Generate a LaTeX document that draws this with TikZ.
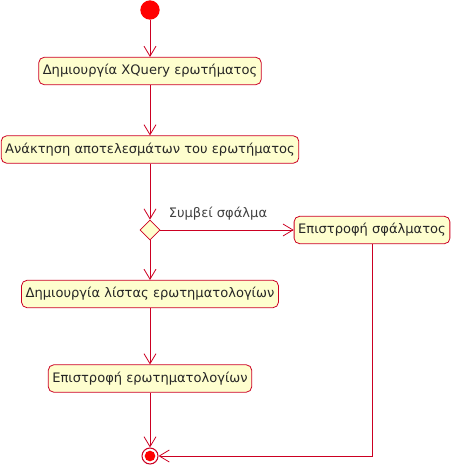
\documentclass[tikz,border=0pt]{standalone}
\usepackage{fontspec}
\setmainfont{DejaVu Sans}
\usetikzlibrary{shapes.geometric,arrows.meta}
\definecolor{umlred}{HTML}{CC0022}
\definecolor{umlfill}{HTML}{FEFECE}
\definecolor{startred}{HTML}{FF0000}
\tikzset{
  act/.style={draw=umlred, fill=umlfill, rounded corners=4pt, line width=0.6pt,
    inner xsep=3pt, minimum height=20.5pt, font=\fontsize{9.8}{12}\selectfont, text=black!85},
  conn/.style={draw=umlred, line width=0.6pt, -{Straight Barb[length=7.5pt,width=9pt]}},
  dec/.style={draw=umlred, fill=umlfill, diamond, inner sep=0pt, minimum width=15pt, minimum height=15pt, line width=0.6pt}
}
\begin{document}
\begin{tikzpicture}[x=0.75pt,y=-0.75pt]
\useasboundingbox (0,0) rectangle (452,467);
\node[circle, fill=startred, minimum size=14.5pt, inner sep=0pt] (start) at (150,10) {};
\node[act] (a1) at (150,71) {Δημιουργία XQuery ερωτήματος};
\node[act] (a2) at (150,149.5) {Ανάκτηση αποτελεσμάτων του ερωτήματος};
\node[dec] (d) at (150,230) {};
\node[act] (a3) at (372,230) {Επιστροφή σφάλματος};
\node[act] (a4) at (150,294) {Δημιουργία λίστας ερωτηματολογίων};
\node[act] (a5) at (150,378.5) {Επιστροφή ερωτηματολογίων};
\node[circle, draw=umlred, line width=0.8pt, minimum size=12pt, inner sep=0pt] (end) at (150,456) {};
\node[circle, fill=startred, minimum size=8pt, inner sep=0pt] (endin) at (150,456) {};
\node[font=\fontsize{9.8}{12}\selectfont, text=black!75, anchor=center] (lbl) at (218,214) {Συμβεί σφάλμα};
\coordinate (corner) at (a3.south |- end.east);
\draw[conn] (start) -- (a1);
\draw[conn] (a1) -- (a2);
\draw[conn] (a2) -- (d.north);
\draw[conn] (d.east) -- (a3.west);
\draw[conn] (d.south) -- (a4.north);
\draw[conn] (a4) -- (a5);
\draw[conn] (a5) -- (end.north);
\draw[conn] (a3.south) -- (corner) -- (end.east);
\end{tikzpicture}
\end{document}
